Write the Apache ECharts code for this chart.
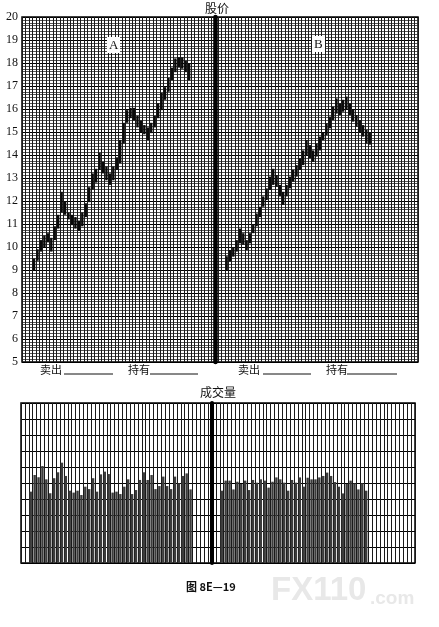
<!DOCTYPE html>
<html><head><meta charset="utf-8">
<script src="https://cdn.jsdelivr.net/npm/echarts@6/dist/echarts.min.js"></script>
<style>html,body{margin:0;padding:0;background:#fff}#c{width:439px;height:627px}</style>
</head><body><div id="c"></div>
<script>
// ---- data ----
const priceTicks = [5,6,7,8,9,10,11,12,13,14,15,16,17,18,19,20];
const daysA = Array.from({length:56},(_,i)=>String(i+1));
const daysB = Array.from({length:61},(_,i)=>String(i+1));
const volDaysA = Array.from({length:49},(_,i)=>String(i+1));
const volDaysB = Array.from({length:52},(_,i)=>String(i+1));
const firstDayA = 3, firstDayB = 3, firstVolDayA = 2, firstVolDayB = 2;

const priceA_low  = [9.0,9.4,9.8,10.0,10.2,9.8,10.3,10.8,11.5,11.4,11.2,10.95,10.8,10.7,10.9,11.3,11.95,12.5,12.8,13.35,13.2,12.9,12.7,12.9,13.35,13.65,14.5,15.4,15.6,15.5,15.2,15.0,14.9,14.65,14.95,15.2,15.6,15.95,16.4,16.75,17.25,17.6,17.8,17.75,17.6,17.25];
const priceA_high = [9.5,9.9,10.3,10.5,10.6,10.4,10.9,11.4,12.4,12.0,11.5,11.4,11.3,11.15,11.5,11.9,12.6,13.2,13.4,14.1,13.7,13.5,13.2,13.5,13.9,14.65,15.4,15.95,16.05,16.05,15.7,15.5,15.3,15.2,15.4,15.7,16.25,16.7,16.95,17.35,17.8,18.2,18.25,18.25,18.1,18.0];

const priceB_low  = [9.0,9.36,9.58,9.8,10.16,10.1,9.87,10.16,10.6,10.9,11.3,11.75,12.04,12.48,12.7,12.62,12.2,11.83,12.2,12.55,12.84,13.06,13.35,13.56,14.0,13.86,13.7,13.93,14.2,14.65,14.87,15.16,15.52,15.8,15.74,15.88,15.96,15.74,15.45,15.23,15.0,14.8,14.5,14.45];
const priceB_high = [9.6,9.87,10.0,10.3,10.8,10.6,10.3,10.6,11.0,11.46,11.75,12.2,12.55,13.06,13.4,13.13,12.7,12.4,12.7,13.06,13.35,13.56,13.86,14.2,14.65,14.43,14.2,14.5,14.8,15.0,15.38,15.67,16.1,16.46,16.25,16.4,16.54,16.25,15.96,15.74,15.52,15.3,15.1,15.0];

const volA = [4.46,5.5,5.36,6.06,5.23,4.36,5.3,5.67,6.27,5.44,4.52,4.4,4.52,4.25,4.77,4.62,5.3,4.46,5.54,5.71,5.56,4.4,4.46,4.31,4.77,5.23,4.31,4.56,5.19,5.67,5.19,5.5,4.62,4.81,5.4,4.81,4.62,5.4,4.98,5.44,5.6,4.6];
const volB = [4.52,5.15,5.15,4.6,5.08,4.94,5.15,4.56,5.19,5.02,5.23,5.15,4.71,5.08,5.35,5.23,5.02,4.52,5.19,5.02,5.35,4.77,5.33,5.23,5.23,5.35,5.44,5.65,5.44,5.06,4.77,4.35,4.94,5.15,4.98,4.6,4.98,4.52];

// ---- chart ----
const chart = echarts.init(document.getElementById('c'), null, {renderer:'canvas'});
const serif = '"Liberation Serif","DejaVu Serif",serif';
const cjk = '"Noto Sans CJK SC","Noto Sans CJK JP",sans-serif';
const gridColor = '#1a1a1a';

function hlRender(params, api){
  const x = api.value(0);
  const lo = api.coord([x, api.value(1)]);
  const hi = api.coord([x, api.value(2)]);
  return {type:'line', shape:{x1:lo[0],y1:lo[1],x2:hi[0],y2:hi[1]},
          style:{stroke:'#0a0a0a', lineWidth:2.4}};
}
function catAxis(data, gi){
  return {type:'category', gridIndex:gi, data:data, boundaryGap:true,
    axisLine:{show:false}, axisTick:{show:false}, axisLabel:{show:false},
    splitLine:{show:true, interval:0, lineStyle:{color:gridColor, width:1}}};
}
function priceY(gi, labels){
  return {type:'value', gridIndex:gi, min:5, max:20, interval:1,
    axisLine:{show:!labels, lineStyle:{color:'#000', width:4.5}},
    axisTick:{show:false},
    axisLabel:{show:labels, color:'#111', fontFamily:serif, fontSize:12, margin:4,
      formatter:v=>priceTicks.includes(v)?String(v):''},
    splitLine:{show:true, lineStyle:{color:'#000', width:1}},
    minorTick:{show:false, splitNumber:8},
    minorSplitLine:{show:true, lineStyle:{color:'#2a2a2a', width:0.8}}};
}
function volY(gi, thick){
  return {type:'value', gridIndex:gi, min:0, max:10, interval:1,
    axisLine:{show:thick, lineStyle:{color:'#000', width:4}},
    axisTick:{show:false}, axisLabel:{show:false},
    splitLine:{show:true, lineStyle:{color:'#000', width:1.2}}};
}
const gridBase = {show:true, borderColor:'#000', borderWidth:1.5, containLabel:false};

chart.setOption({
  animation:false,
  backgroundColor:'#fff',
  grid:[
    Object.assign({left:22, top:17, width:193, height:345}, gridBase),
    Object.assign({left:215, top:17, width:203, height:345}, gridBase),
    Object.assign({left:21, top:403, width:191, height:160}, gridBase),
    Object.assign({left:212, top:403, width:203, height:160}, gridBase)
  ],
  xAxis:[catAxis(daysA,0), catAxis(daysB,1), catAxis(volDaysA,2), catAxis(volDaysB,3)],
  yAxis:[priceY(0,true), priceY(1,false), volY(2,false), volY(3,true)],
  series:[
    {type:'custom', xAxisIndex:0, yAxisIndex:0, renderItem:hlRender,
     data:priceA_low.map((l,i)=>[firstDayA+i, l, priceA_high[i]])},
    {type:'custom', xAxisIndex:1, yAxisIndex:1, renderItem:hlRender,
     data:priceB_low.map((l,i)=>[firstDayB+i, l, priceB_high[i]])},
    {type:'bar', xAxisIndex:2, yAxisIndex:2, barWidth:'62%', itemStyle:{color:'#3c3c3c'},
     data:volA.map((v,i)=>[firstVolDayA+i, v])},
    {type:'bar', xAxisIndex:3, yAxisIndex:3, barWidth:'62%', itemStyle:{color:'#3c3c3c'},
     data:volB.map((v,i)=>[firstVolDayB+i, v])}
  ],
  graphic:[
    {type:'text', z:100, left:205, top:2, style:{text:'股价', font:'12px '+cjk, fill:'#111'}},
    {type:'rect', z:100, shape:{x:107,y:37,width:13,height:16}, style:{fill:'#fff'}},
    {type:'text', z:101, left:109, top:39, style:{text:'A', font:'13px '+serif, fill:'#111'}},
    {type:'rect', z:100, shape:{x:312,y:36,width:13,height:16}, style:{fill:'#fff'}},
    {type:'text', z:101, left:314, top:38, style:{text:'B', font:'13px '+serif, fill:'#111'}},
    {type:'text', z:100, left:40, top:364, style:{text:'卖出', font:'11px '+cjk, fill:'#111'}},
    {type:'line', z:100, shape:{x1:64,y1:374,x2:113,y2:374}, style:{stroke:'#111', lineWidth:1}},
    {type:'text', z:100, left:128, top:364, style:{text:'持有', font:'11px '+cjk, fill:'#111'}},
    {type:'line', z:100, shape:{x1:150,y1:374,x2:198,y2:374}, style:{stroke:'#111', lineWidth:1}},
    {type:'text', z:100, left:238, top:364, style:{text:'卖出', font:'11px '+cjk, fill:'#111'}},
    {type:'line', z:100, shape:{x1:263,y1:374,x2:311,y2:374}, style:{stroke:'#111', lineWidth:1}},
    {type:'text', z:100, left:326, top:364, style:{text:'持有', font:'11px '+cjk, fill:'#111'}},
    {type:'line', z:100, shape:{x1:347,y1:374,x2:397,y2:374}, style:{stroke:'#111', lineWidth:1}},
    {type:'text', z:100, left:200, top:386, style:{text:'成交量', font:'12px '+cjk, fill:'#111'}},
    {type:'text', z:100, left:271, top:574, style:{text:'FX110', font:'bold 33px "Liberation Sans",Arial,sans-serif', fill:'#e8e8e8'}},
    {type:'text', z:100, left:370, top:589, style:{text:'.com', font:'bold 19px "Liberation Sans",Arial,sans-serif', fill:'#e8e8e8'}},
    {type:'text', z:100, left:186, top:581, style:{text:'图 8E—19', font:'bold 11px '+cjk, fill:'#111'}}
  ]
});
</script></body></html>
